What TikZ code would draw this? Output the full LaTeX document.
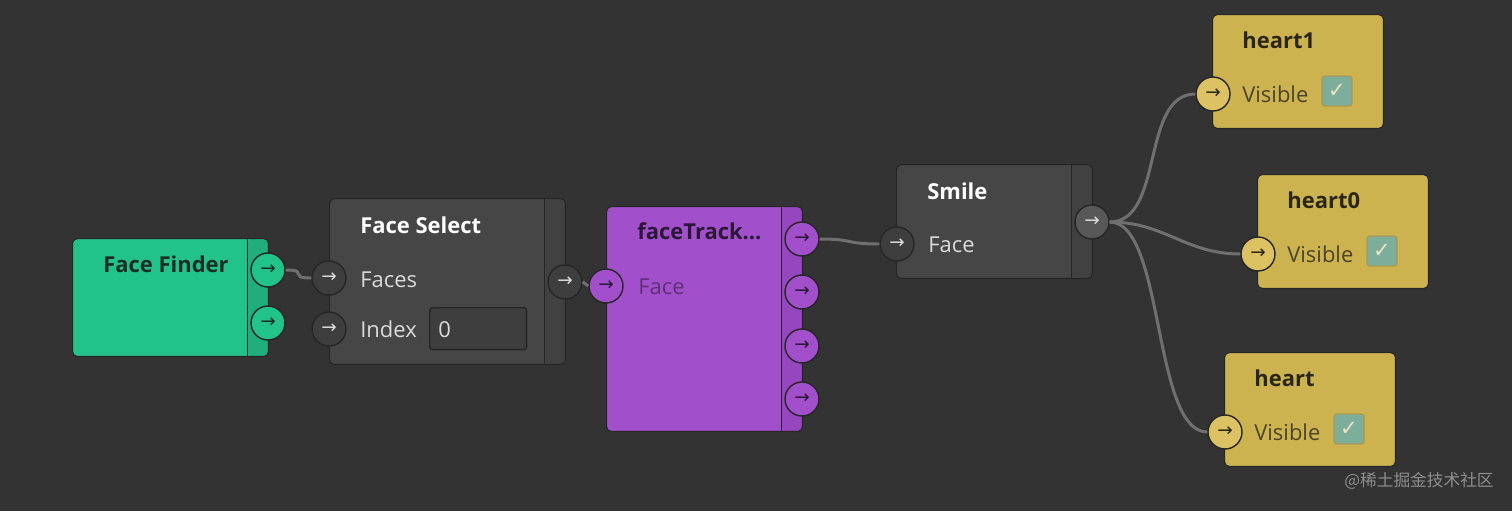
\documentclass[tikz,border=0pt]{standalone}
\usepackage{fontspec}
\setmainfont{Open Sans}
\newfontfamily\symfont{DejaVu Sans}
\newfontfamily\cjkfont{Noto Sans CJK SC}

\definecolor{bg}{HTML}{333333}
\definecolor{nodeedge}{HTML}{262626}
\definecolor{graybody}{HTML}{464646}
\definecolor{graystrip}{HTML}{414141}
\definecolor{grayportfill}{HTML}{3E3E3E}
\definecolor{smoutfill}{HTML}{585858}
\definecolor{graytext}{HTML}{DADADA}
\definecolor{ffgreen}{HTML}{22C38A}
\definecolor{ffstrip}{HTML}{20AE7C}
\definecolor{ffdark}{HTML}{1B2E26}
\definecolor{ftpurple}{HTML}{A24FCB}
\definecolor{ftstrip}{HTML}{9646BE}
\definecolor{ftdark}{HTML}{2B1836}
\definecolor{ftdim}{HTML}{5E3276}
\definecolor{heartcol}{HTML}{CCB350}
\definecolor{heartport}{HTML}{DCC262}
\definecolor{heartdark}{HTML}{2A2616}
\definecolor{heartlabel}{HTML}{4B4428}
\definecolor{boxteal}{HTML}{7DAE9C}
\definecolor{boxedge}{HTML}{A89A52}
\definecolor{ticklight}{HTML}{EEE6BC}
\definecolor{wirecol}{HTML}{707070}
\definecolor{wmgray}{HTML}{8E8E8E}

\newcommand\portarr{{\symfont\fontsize{10.5}{11}\selectfont →}}

\tikzset{
  body/.style={draw=nodeedge, line width=0.6pt, rounded corners=0.1cm,
    anchor=north west, inner sep=0pt},
  strip/.style={path picture={
    \fill[#1] ([xshift=-0.42cm]path picture bounding box.north east)
      rectangle (path picture bounding box.south east);
    \draw[nodeedge, line width=0.7pt] ([xshift=-0.42cm]path picture bounding box.north east)
      -- ([xshift=-0.42cm]path picture bounding box.south east);}},
  port/.style={circle, draw=nodeedge, line width=0.8pt, minimum size=0.68cm, inner sep=0pt},
  grayport/.style={port, fill=grayportfill, text=graytext},
  ftport/.style={port, fill=ftpurple, text=ftdark},
  headtxt/.style={anchor=base west, inner sep=0pt, font=\bfseries\fontsize{12.5}{14}\selectfont},
  field/.style={anchor=base west, inner sep=0pt, font=\fontsize{12.5}{14}\selectfont},
  valbox/.style={draw=nodeedge, fill=grayportfill, line width=0.8pt, rounded corners=0.06cm,
    anchor=north west, minimum width=1.94cm, minimum height=0.84cm, inner sep=0pt},
  checkbox/.style={draw=boxedge, fill=boxteal, line width=0.8pt, rounded corners=0.06cm,
    minimum size=0.6cm, inner sep=0pt, text=ticklight, font=\symfont\bfseries\fontsize{12}{12}\selectfont},
  wire/.style={draw=wirecol, line width=1.7pt}
}

\begin{document}
\begin{tikzpicture}[x=0.02cm, y=-0.02cm]
\fill[bg] (0,0) rectangle (1512,511);
\useasboundingbox (0,0) rectangle (1512,511);

\node[body, strip=ffstrip, fill=ffgreen, minimum width=3.92cm, minimum height=2.36cm] (ff) at (72,238) {};
\node[headtxt, text=ffdark] (fftitle) at (103,272) {Face Finder};
\node[port, fill=ffgreen, text=ffdark] (ffout1) at (268,270) {\portarr};
\node[port, fill=ffgreen, text=ffdark] (ffout2) at (268,323) {\portarr};

\node[body, strip=graystrip, fill=graybody, minimum width=4.72cm, minimum height=3.32cm] (fs) at (329,198) {};
\node[headtxt, text=white] (fstitle) at (360,233) {Face Select};
\node[grayport] (fsin1) at (329,278) {\portarr};
\node[field, text=graytext] (fsfaces) at (360,287) {Faces};
\node[grayport] (fsin2) at (329,329) {\portarr};
\node[field, text=graytext] (fsindex) at (360,337) {Index};
\node[valbox] (fsbox) at (429,307) {};
\node[field, text=graytext] (fsval) at (438,337) {0};
\node[grayport] (fsout) at (565,282) {\portarr};

\node[body, strip=ftstrip, fill=ftpurple, minimum width=3.92cm, minimum height=4.5cm] (ft) at (606,206) {};
\node[headtxt, text=ftdark] (fttitle) at (637,239) {faceTrack…};
\node[ftport] (ftin) at (606,286) {\portarr};
\node[field, text=ftdim] (ftface) at (638,294) {Face};
\foreach \i/\y in {1/239,2/292,3/346,4/399}
  \node[ftport] (ftout\i) at (802,\y) {\portarr};

\node[body, strip=graystrip, fill=graybody, minimum width=3.92cm, minimum height=2.28cm] (sm) at (896,164) {};
\node[headtxt, text=white] (smtitle) at (927,199) {Smile};
\node[grayport] (smin) at (897,244) {\portarr};
\node[field, text=graytext] (smface) at (928,252) {Face};
\node[grayport, fill=smoutfill] (smout) at (1092,222) {\portarr};

\foreach \n/\x/\y in {heart1/1212/14, heart0/1257/174, heart/1224/352}{
  \node[body, fill=heartcol, minimum width=3.42cm, minimum height=2.28cm] (\n) at (\x,\y) {};
  \node[headtxt, text=heartdark] (\n title) at (\x+30,\y+34) {\n};
  \node[port, fill=heartport, text=heartdark] (\n in) at (\x+1,\y+80) {\portarr};
  \node[field, text=heartlabel] (\n vis) at (\x+30,\y+88) {Visible};
  \node[checkbox] (\n box) at (\x+125,\y+77) {✓};
}

\draw[wire] (ffout1.east) .. controls +(25,0) and +(-25,0) .. (fsin1.west);
\draw[wire] (fsout.east) -- (ftin.west);
\draw[wire] (ftout1.east) .. controls +(35,0) and +(-35,0) .. (smin.west);
\foreach \n in {heart1,heart0,heart}
  \draw[wire] (smout.east) .. controls +(55,0) and +(-55,0) .. (\n in.west);

\node[anchor=east, inner sep=0pt, text=wmgray, font=\cjkfont\fontsize{9.5}{10}\selectfont] (wm) at (1494,481) {@稀土掘金技术社区};
\end{tikzpicture}
\end{document}
